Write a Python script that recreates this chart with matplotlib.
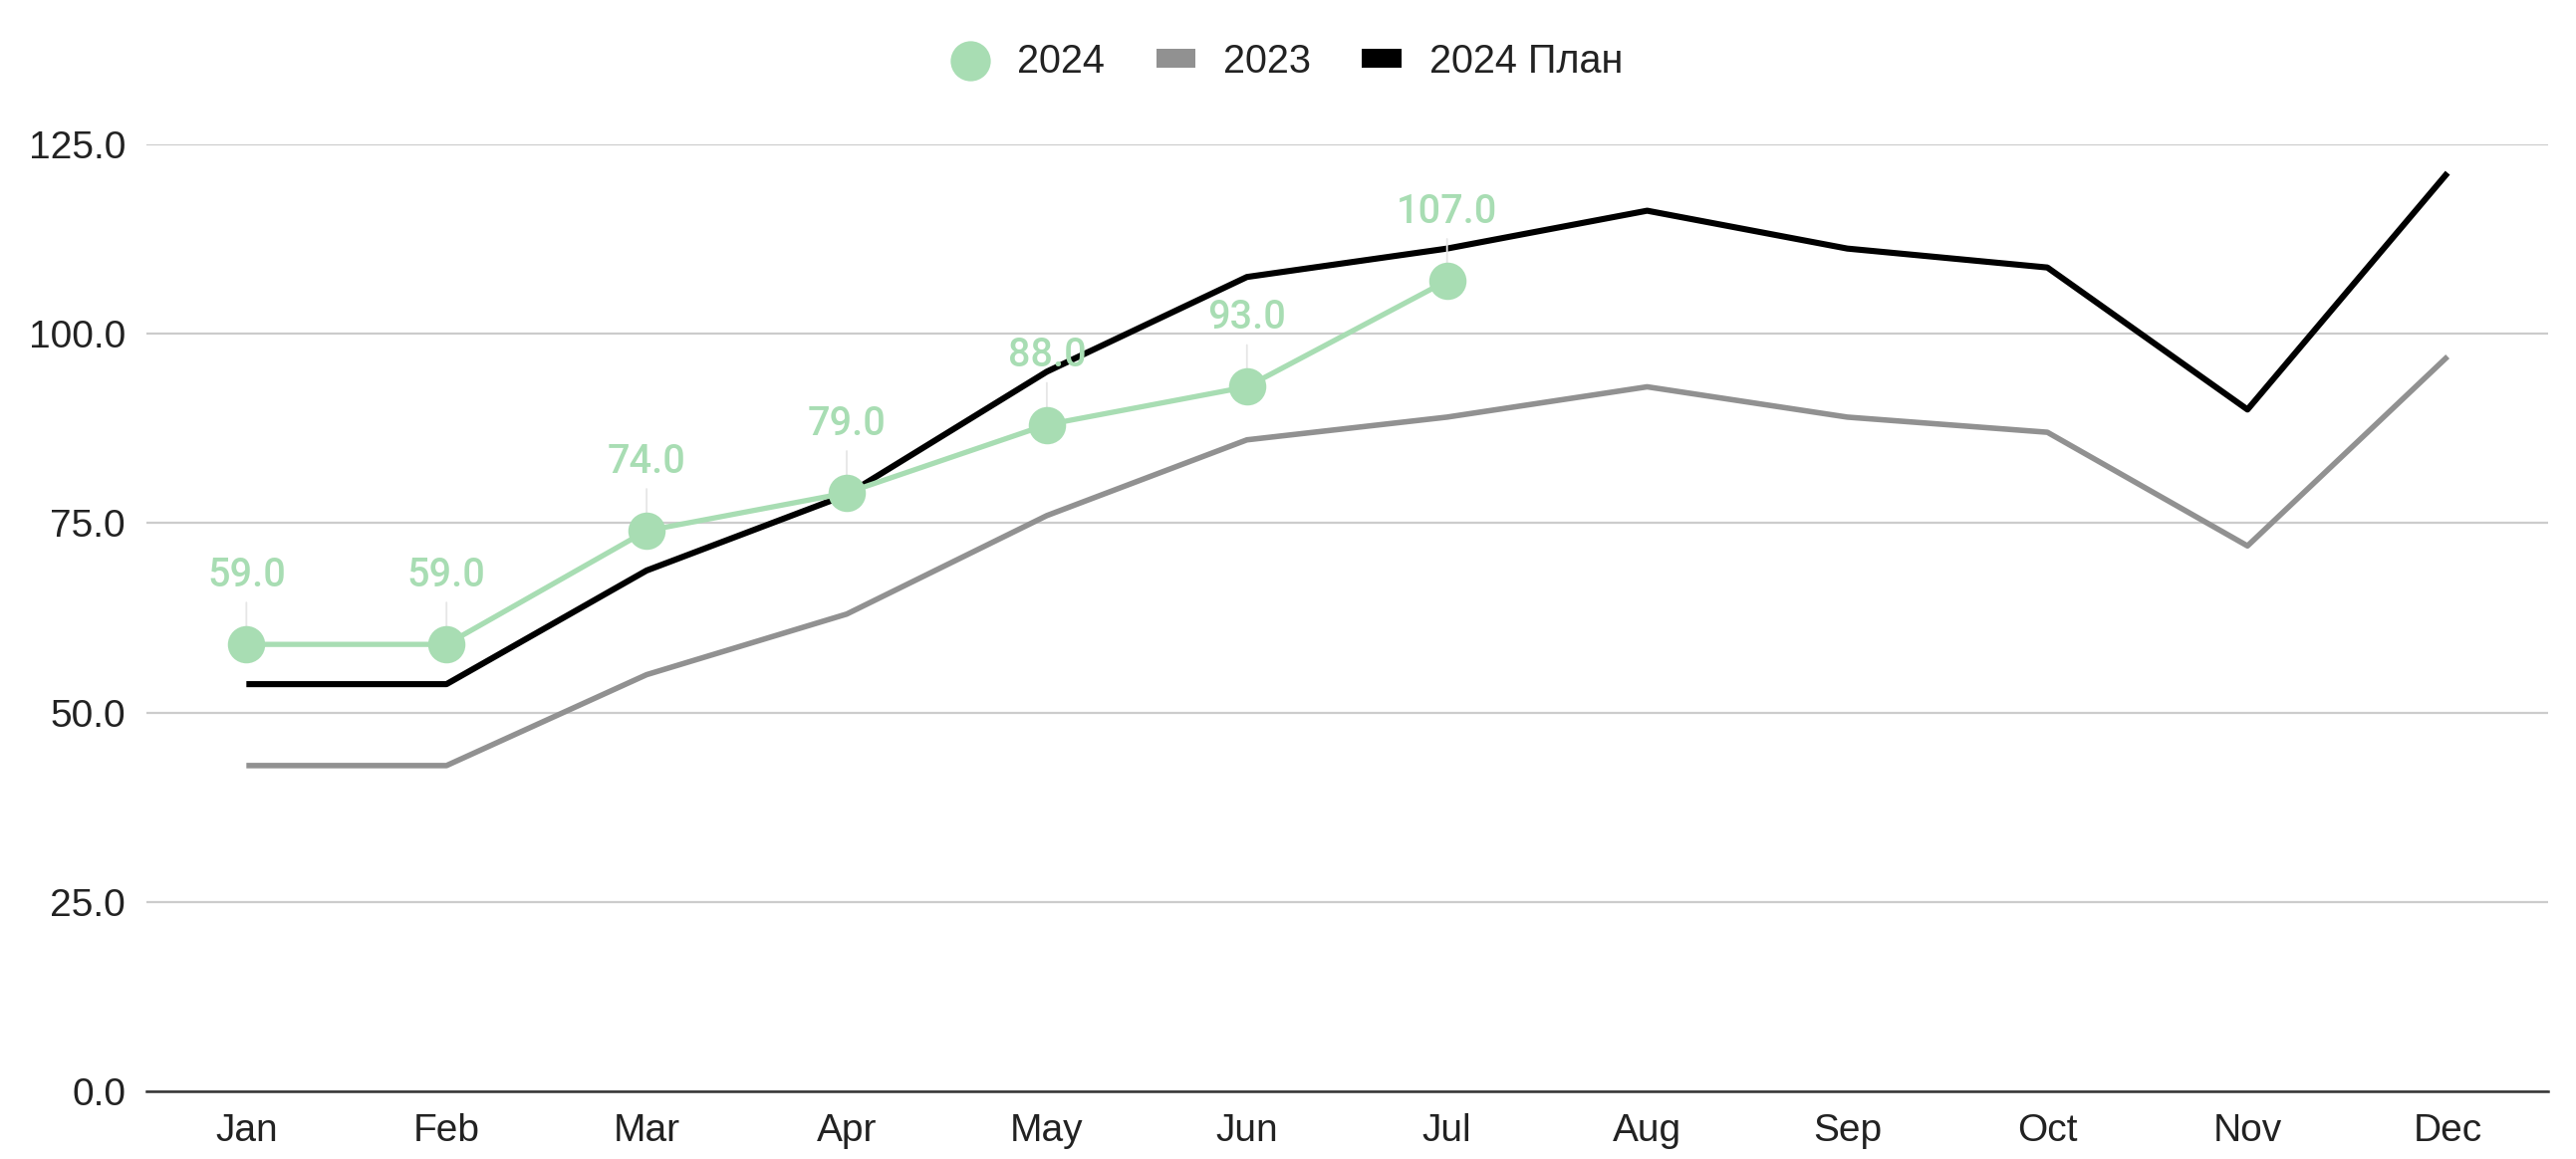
import matplotlib
matplotlib.use("Agg")
import matplotlib.pyplot as plt
from matplotlib.lines import Line2D
from matplotlib.patches import Patch

months = ["Jan", "Feb", "Mar", "Apr", "May", "Jun", "Jul", "Aug", "Sep", "Oct", "Nov", "Dec"]
actual_2024 = [59.0, 59.0, 74.0, 79.0, 88.0, 93.0, 107.0]
values_2023 = [43, 43, 55, 63, 76, 86, 89, 93, 89, 87, 72, 97]
plan_2024 = [53.75, 53.75, 68.75, 78.75, 95.0, 107.5, 111.25, 116.25, 111.25, 108.75, 90.0, 121.25]
yticks = [0, 25, 50, 75, 100, 125]

GREEN = "#a8ddb3"
GRAY = "#919191"
BLACK = "#000000"
FONT = "Liberation Sans"

plt.rcParams["font.family"] = [FONT, "DejaVu Sans"]

fig = plt.figure(figsize=(25.86, 11.64), dpi=100)
ax = fig.add_axes([0.0568, 0.0584, 0.9322, 0.8170])

x_all = list(range(len(months)))
ax.plot(x_all, values_2023, color=GRAY, lw=4.0, zorder=3, solid_capstyle="butt")
ax.plot(x_all, plan_2024, color=BLACK, lw=4.4, zorder=3, solid_capstyle="butt")
x_act = list(range(len(actual_2024)))
ax.plot(x_act, actual_2024, color=GREEN, lw=3.8, marker="o", markersize=27,
        markeredgewidth=0, zorder=5)

for xi, v in zip(x_act, actual_2024):
    ax.annotate(f"{v:.1f}", xy=(xi, v), xytext=(0, 42), textcoords="offset points",
                ha="center", va="baseline", color=GREEN, fontsize=28.5,
                family=["Roboto", "DejaVu Sans"], fontweight="medium",
                zorder=4,
                arrowprops=dict(arrowstyle="-", color="#e6e6e6", lw=1.3,
                                shrinkA=4, shrinkB=0))

ax.set_xlim(-0.5, len(months) - 0.5)
ax.set_ylim(0, 125)
ax.set_yticks(yticks)
ax.set_yticklabels([f"{t:.1f}" for t in yticks])
ax.set_xticks(x_all)
ax.set_xticklabels(months)
ax.tick_params(axis="both", length=0, labelsize=28, labelcolor="#222222")
ax.tick_params(axis="x", pad=16)
ax.tick_params(axis="y", pad=15)

ax.grid(axis="y", color="#cccccc", lw=1.6, zorder=0)
ax.set_axisbelow(True)
for s in ["top", "right", "left"]:
    ax.spines[s].set_visible(False)
ax.spines["bottom"].set_color("#333333")
ax.spines["bottom"].set_linewidth(1.8)
ax.spines["bottom"].set_zorder(2)

handles = [
    Line2D([], [], color=GREEN, marker="o", ls="none", markersize=29, markeredgewidth=0),
    Patch(facecolor=GRAY, edgecolor="none"),
    Patch(facecolor=BLACK, edgecolor="none"),
]
labels = ["2024", "2023", "2024 План"]
fig.legend(handles, labels, loc="center", bbox_to_anchor=(0.4994, 0.947), ncol=3,
           frameon=False, fontsize=28.5, handlelength=1.0, handleheight=0.33,
           handletextpad=0.7, columnspacing=1.3, labelcolor="#222222")

fig.savefig("out.png", dpi=100, facecolor="white")
